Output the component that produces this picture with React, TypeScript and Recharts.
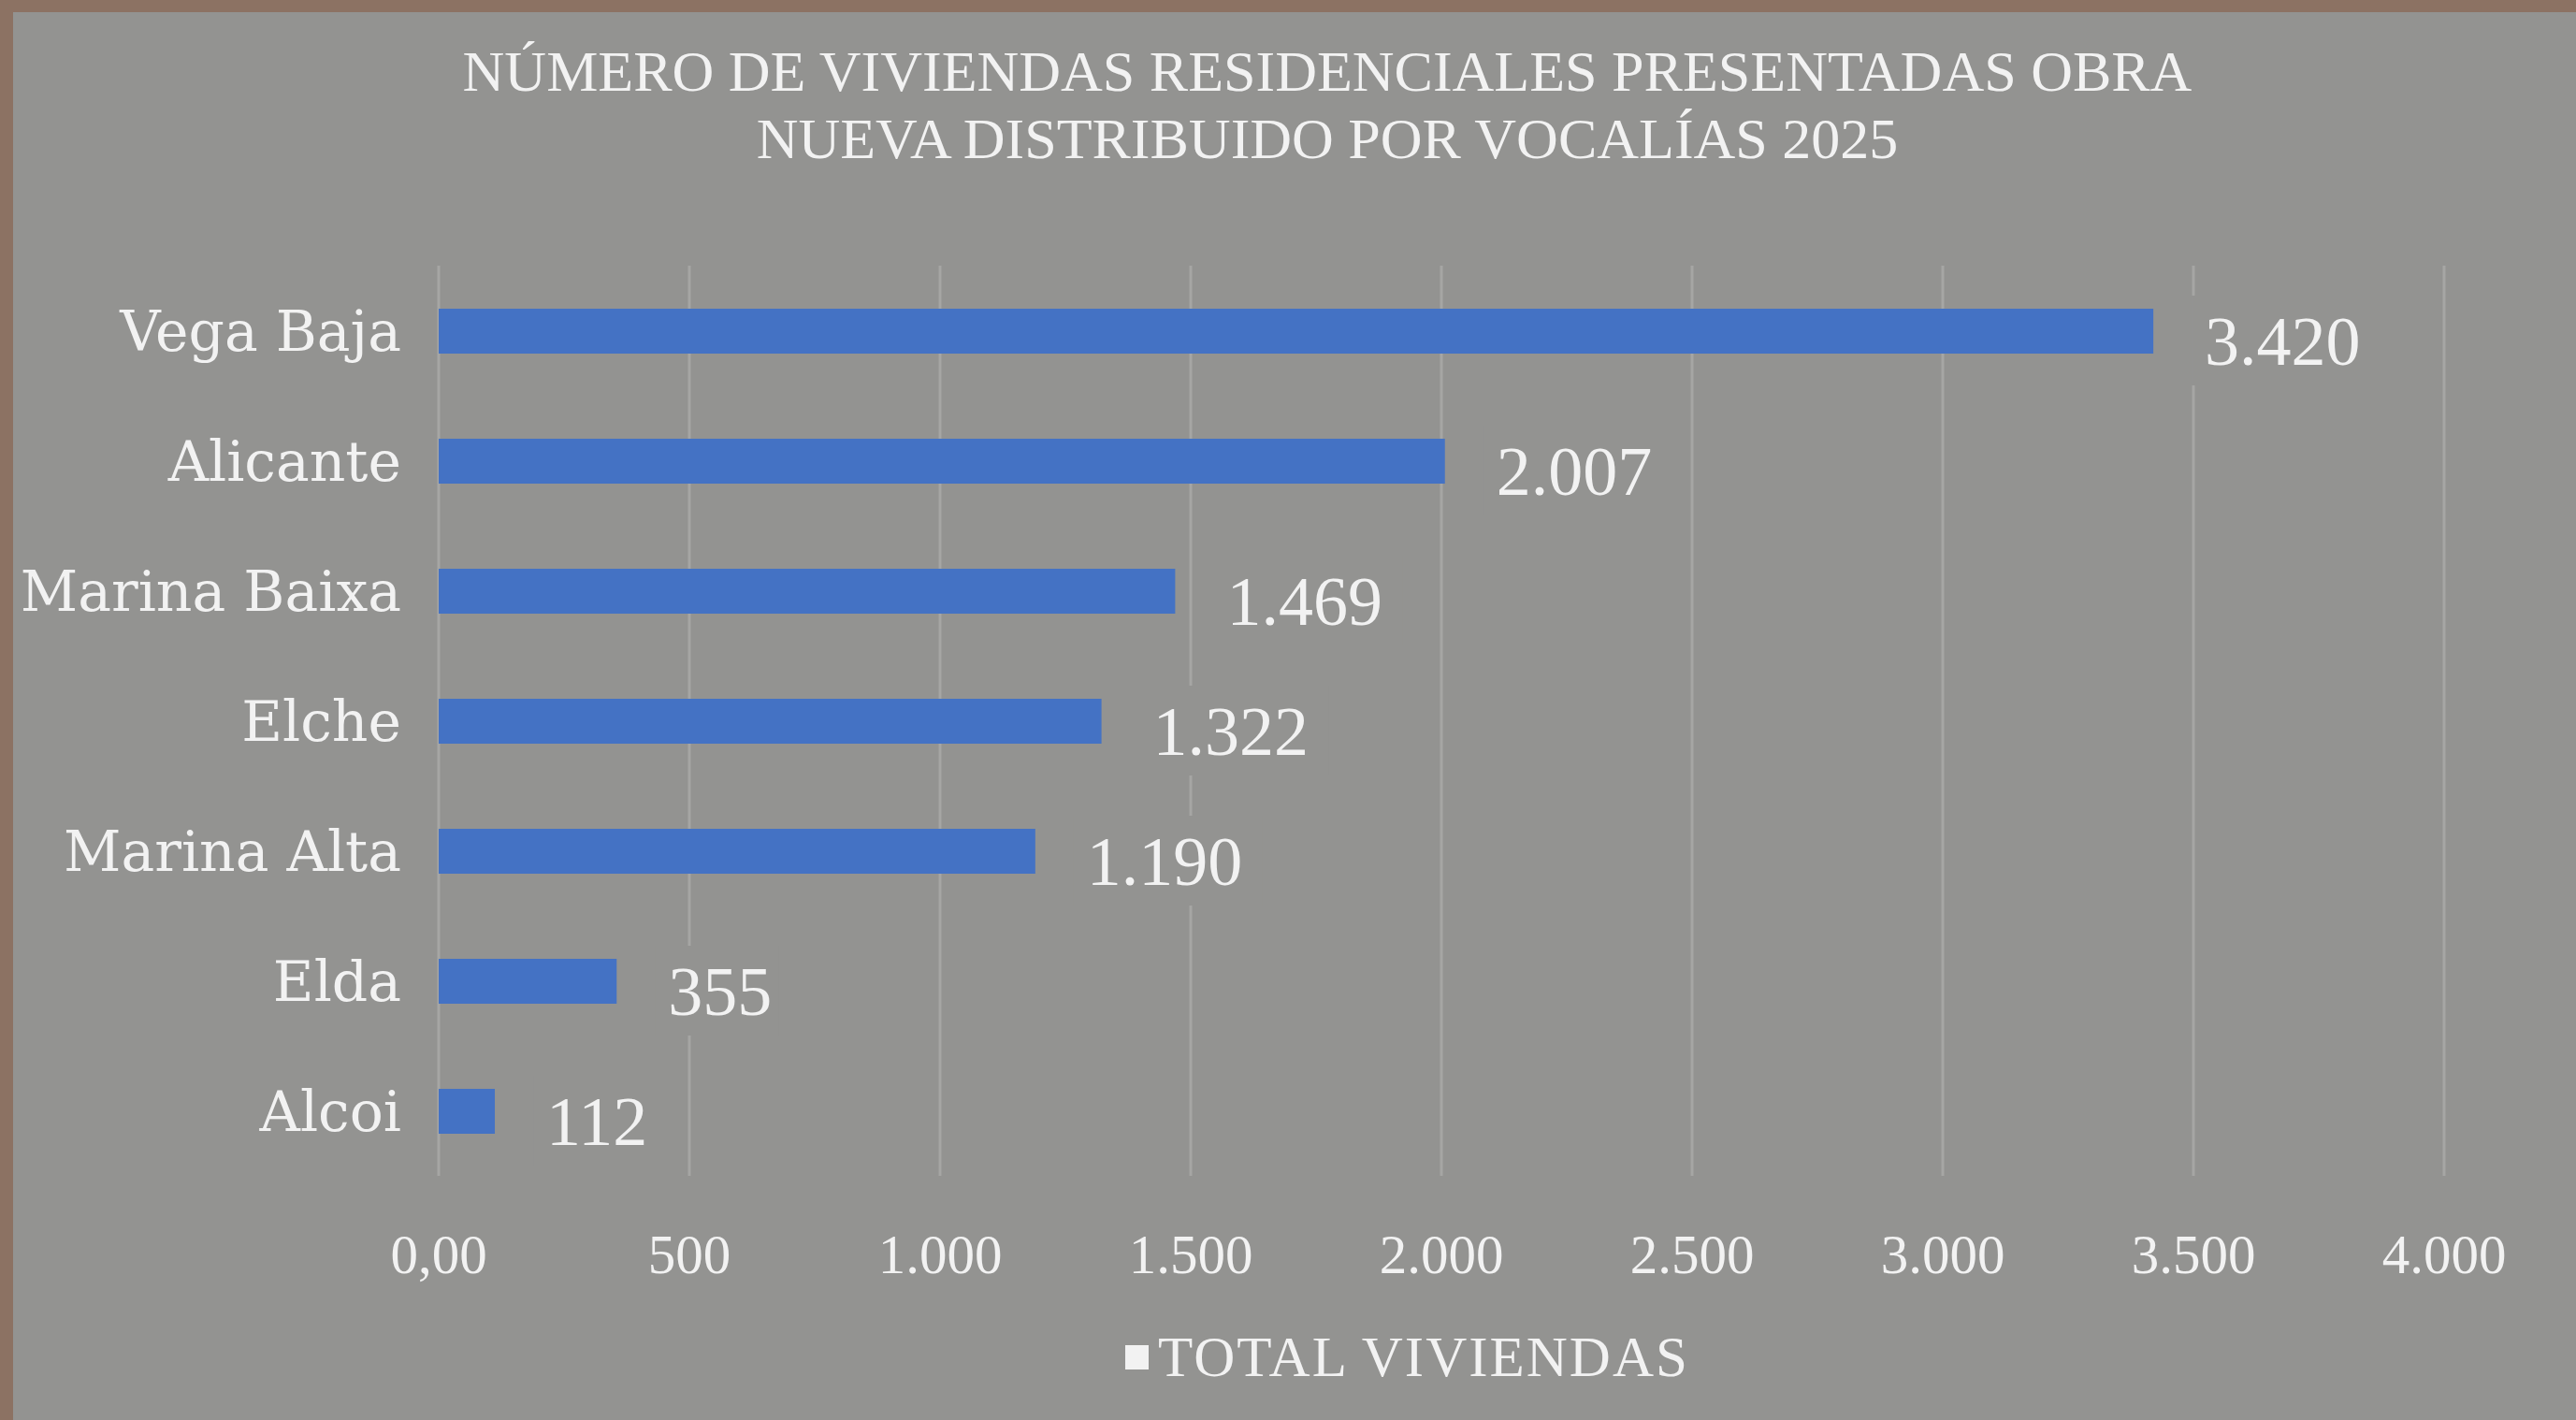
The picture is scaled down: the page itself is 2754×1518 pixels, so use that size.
import { Bar, BarChart, CartesianGrid, LabelList, XAxis, YAxis } from "recharts";

const ZONAS = [
  "Vega Baja",
  "Alicante",
  "Marina Baixa",
  "Elche",
  "Marina Alta",
  "Elda",
  "Alcoi",
];
const TOTAL_VIVIENDAS = [3420, 2007, 1469, 1322, 1190, 355, 112];
const X_TICKS = [0, 500, 1000, 1500, 2000, 2500, 3000, 3500, 4000];

const TITLE_LINES = [
  "NÚMERO DE VIVIENDAS RESIDENCIALES PRESENTADAS OBRA",
  "NUEVA DISTRIBUIDO POR VOCALÍAS 2025",
];
const SERIES_NAME = "TOTAL VIVIENDAS";

const BG = "#939391";
const FRAME = "#8c7263";
const BAR_COLOR = "#4472c4";
const GRID_COLOR = "#a6a6a4";
const TEXT_COLOR = "#f2f2f2";
const SERIF = "'Liberation Serif', 'Times New Roman', serif";
const LABEL_SERIF = "'DejaVu Serif', serif";

const W = 2754;
const H = 1518;

const data = ZONAS.map((zona, i) => ({ zona, total: TOTAL_VIVIENDAS[i] }));

// 1234 -> "1.234"
function fmt(v: number) {
  return String(v).replace(/\B(?=(\d{3})+(?!\d))/g, ".");
}

function ValueLabel(props: any) {
  const { x, y, width, height, value } = props;
  const text = fmt(Number(value));
  const fs = 74;
  const tx = x + width + 55;
  const cy = y + height / 2 + 10;
  const tw = text.length * fs * 0.47;
  return (
    <g>
      <rect x={tx - 14} y={cy - 48} width={tw + 28} height={96} fill={BG} />
      <text
        x={tx}
        y={cy}
        dy="0.35em"
        fill={TEXT_COLOR}
        fontFamily={SERIF}
        fontSize={fs}
      >
        {text}
      </text>
    </g>
  );
}

export default function App() {
  return (
    <div
      style={{
        position: "absolute",
        left: 0,
        top: 0,
        width: W,
        height: H,
        background: FRAME,
        overflow: "hidden",
      }}
    >
      <div
        style={{
          position: "absolute",
          left: 14,
          top: 13,
          width: W - 14,
          height: H - 13,
          background: BG,
        }}
      />
      <div
        style={{
          position: "absolute",
          left: 0,
          top: 0,
          width: 2838,
          textAlign: "center",
          color: TEXT_COLOR,
          fontFamily: SERIF,
          fontSize: 62,
        }}
      >
        {TITLE_LINES.map((line, i) => (
          <div
            key={i}
            style={{
              position: "absolute",
              left: 0,
              right: 0,
              top: 41 + i * 72,
              lineHeight: "70px",
              whiteSpace: "nowrap",
            }}
          >
            {line}
          </div>
        ))}
      </div>
      <div style={{ position: "absolute", left: 0, top: 0 }}>
        <BarChart
          width={W}
          height={H}
          data={data}
          layout="vertical"
          margin={{ top: 284, right: 141, left: 14, bottom: 141 }}
          barCategoryGap={0}
        >
          <CartesianGrid
            horizontal={false}
            stroke={GRID_COLOR}
            strokeWidth={3}
          />
          <XAxis
            type="number"
            domain={[0, 4000]}
            ticks={X_TICKS}
            interval={0}
            height={120}
            axisLine={false}
            tickLine={false}
            tickSize={0}
            tickMargin={62}
            tick={{ fill: TEXT_COLOR, fontFamily: SERIF, fontSize: 59 }}
            tickFormatter={(v: number) => (v === 0 ? "0,00" : fmt(v))}
          />
          <YAxis
            type="category"
            dataKey="zona"
            width={455}
            axisLine={false}
            tickLine={false}
            tickSize={0}
            tickMargin={40}
            interval={0}
            tick={{ fill: TEXT_COLOR, fontFamily: LABEL_SERIF, fontSize: 60 }}
          />
          <Bar
            dataKey="total"
            name={SERIES_NAME}
            fill={BAR_COLOR}
            barSize={48}
            isAnimationActive={false}
          >
            <LabelList dataKey="total" content={ValueLabel} />
          </Bar>
        </BarChart>
      </div>
      <div
        style={{
          position: "absolute",
          left: 1203,
          top: 1418,
          display: "flex",
          alignItems: "center",
          color: TEXT_COLOR,
          fontFamily: SERIF,
          fontSize: 61,
          lineHeight: "66px",
          whiteSpace: "nowrap",
        }}
      >
        <span
          style={{
            display: "inline-block",
            width: 25,
            height: 26,
            background: TEXT_COLOR,
            marginRight: 10,
          }}
        />
        <span style={{ letterSpacing: 2 }}>{SERIES_NAME}</span>
      </div>
    </div>
  );
}
